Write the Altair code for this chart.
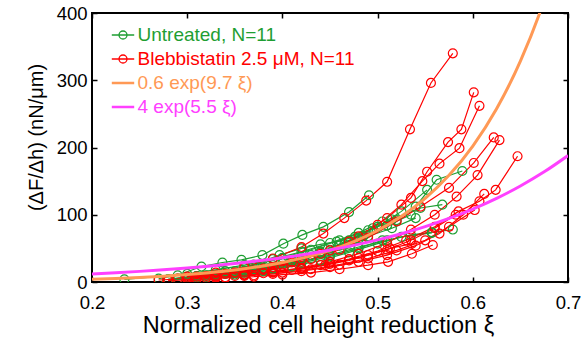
import json
import altair as alt
import pandas as pd

FONT = "Liberation Sans"
SERIES = ["Untreated, N=11", "Blebbistatin 2.5 μM, N=11", "0.6 exp(9.7 ξ)", "4 exp(5.5 ξ)"]
COLORS = ["#1e9e32", "#ff0000", "#ff9955", "#ff40ff"]
X_TICKS = [0.2, 0.3, 0.4, 0.5, 0.6, 0.7]
Y_TICKS = [0, 100, 200, 300, 400]

# Untreated curves (green)
GREEN_X = [
    [0.270, 0.290, 0.315, 0.337, 0.357, 0.379, 0.401, 0.421, 0.443, 0.470, 0.491],
    [0.300, 0.330, 0.360, 0.390, 0.420, 0.450, 0.480, 0.510, 0.540, 0.562, 0.589],
    [0.280, 0.310, 0.340, 0.370, 0.400, 0.430, 0.460, 0.490, 0.515, 0.545, 0.568],
    [0.300, 0.330, 0.360, 0.390, 0.420, 0.450, 0.480, 0.510, 0.535, 0.557, 0.579],
    [0.290, 0.320, 0.350, 0.380, 0.410, 0.440, 0.470, 0.500, 0.525, 0.552],
    [0.280, 0.310, 0.340, 0.370, 0.397, 0.420, 0.440, 0.457, 0.476, 0.495, 0.520],
    [0.234, 0.300, 0.330, 0.360, 0.390, 0.420, 0.450, 0.480, 0.505],
    [0.310, 0.340, 0.370, 0.400, 0.430, 0.460, 0.485, 0.510, 0.535],
    [0.290, 0.320, 0.350, 0.380, 0.410, 0.440, 0.470, 0.500, 0.525, 0.557],
    [0.300, 0.330, 0.360, 0.390, 0.420, 0.450, 0.480, 0.505],
    [0.320, 0.350, 0.380, 0.410, 0.440, 0.465, 0.490, 0.515, 0.540],
]
GREEN_Y = [
    [5, 10, 23, 29, 33, 40, 57, 70, 82, 104, 129],
    [6, 11, 17, 25, 35, 48, 64, 84, 112, 152, 165],
    [4, 9, 16, 25, 36, 48, 62, 77, 93, 110, 115],
    [6, 10, 15, 22, 30, 40, 52, 62, 70, 74, 78],
    [5, 9, 14, 21, 31, 45, 62, 82, 105, 137],
    [4, 9, 16, 26, 40, 50, 56, 60, 67, 80, 92],
    [4, 12, 18, 25, 34, 45, 58, 73, 90],
    [7, 12, 19, 28, 40, 54, 68, 84, 100],
    [4, 7, 11, 16, 23, 32, 44, 57, 67, 73],
    [5, 9, 14, 20, 28, 38, 50, 62],
    [10, 16, 24, 33, 44, 56, 68, 80, 95],
]

# Blebbistatin curves (red)
RED_X = [
    [0.300, 0.330, 0.360, 0.390, 0.420, 0.443, 0.465, 0.488, 0.510, 0.534, 0.556, 0.579],
    [0.300, 0.330, 0.360, 0.390, 0.420, 0.450, 0.480, 0.510, 0.535, 0.552, 0.574, 0.588, 0.601],
    [0.290, 0.320, 0.350, 0.380, 0.410, 0.440, 0.470, 0.500, 0.525, 0.547, 0.565, 0.586, 0.607],
    [0.310, 0.340, 0.370, 0.400, 0.430, 0.460, 0.490, 0.520, 0.545, 0.575, 0.601, 0.622],
    [0.300, 0.330, 0.360, 0.390, 0.420, 0.450, 0.480, 0.510, 0.535, 0.560, 0.583, 0.605, 0.628],
    [0.320, 0.350, 0.380, 0.410, 0.440, 0.470, 0.500, 0.530, 0.560, 0.585, 0.607, 0.624, 0.647],
    [0.300, 0.330, 0.360, 0.390, 0.420, 0.450, 0.480, 0.510, 0.540, 0.565, 0.590, 0.612],
    [0.280, 0.310, 0.340, 0.370, 0.400, 0.430, 0.460, 0.490, 0.520, 0.550, 0.575, 0.602],
    [0.270, 0.300, 0.330, 0.360, 0.390, 0.420, 0.450, 0.480, 0.510, 0.535, 0.560, 0.582],
    [0.280, 0.310, 0.340, 0.370, 0.400, 0.430, 0.460, 0.490, 0.511, 0.536, 0.558],
    [0.300, 0.330, 0.360, 0.390, 0.420, 0.445, 0.470, 0.490, 0.513, 0.536],
]
RED_Y = [
    [8, 14, 22, 35, 52, 72, 95, 121, 149, 227, 296, 340],
    [6, 10, 15, 22, 33, 47, 68, 95, 125, 164, 208, 227, 282],
    [5, 9, 14, 20, 29, 42, 60, 85, 115, 150, 176, 199, 262],
    [8, 12, 17, 24, 34, 48, 66, 90, 112, 140, 177, 215],
    [5, 8, 11, 15, 21, 30, 42, 58, 78, 100, 127, 159, 211],
    [6, 9, 13, 18, 25, 34, 46, 62, 82, 105, 120, 137, 187],
    [4, 6, 9, 12, 16, 22, 30, 40, 54, 72, 100, 131],
    [3, 5, 7, 10, 14, 19, 26, 35, 47, 62, 82, 107],
    [3, 5, 8, 11, 15, 20, 27, 36, 48, 62, 80, 100],
    [2, 4, 6, 8, 11, 14, 19, 25, 30, 42, 55],
    [5, 7, 10, 14, 19, 25, 32, 40, 50, 57],
]

# Fitted curves
FIT_X = [0.200, 0.225, 0.250, 0.275, 0.300, 0.325, 0.350, 0.375, 0.400, 0.425, 0.450,
         0.475, 0.500, 0.525, 0.550, 0.575, 0.600, 0.625, 0.650, 0.675, 0.700]
FIT_ORANGE = [4.2, 5.3, 6.8, 8.6, 11.0, 14.0, 17.9, 22.8, 29.1, 37.0, 47.2,
              60.1, 76.6, 97.7, 124.5, 158.6, 202.2, 257.7, 328.4, 418.5, 533.0]
FIT_MAGENTA = [12.0, 13.8, 15.8, 18.2, 20.8, 23.9, 27.4, 31.5, 36.1, 41.4, 47.5,
               54.5, 62.6, 71.8, 82.4, 94.5, 108.5, 124.4, 142.8, 163.8, 188.0]

MEAS_SYMBOL = "M-1.4,0L1.4,0M0.5,0A0.5,0.5 0 1,1 -0.5,0A0.5,0.5 0 1,1 0.5,0"
FIT_SYMBOL = "M-1.4,-0.08L1.4,-0.08M-1.4,0L1.4,0M-1.4,0.08L1.4,0.08"
SHAPES = [MEAS_SYMBOL, MEAS_SYMBOL, FIT_SYMBOL, FIT_SYMBOL]

rows = []
for label, XS, YS, tag in [(SERIES[0], GREEN_X, GREEN_Y, "g"), (SERIES[1], RED_X, RED_Y, "r")]:
    for i, (xs, ys) in enumerate(zip(XS, YS)):
        for x, y in zip(xs, ys):
            rows.append({"series": label, "curve": f"{tag}{i}", "x": x, "y": y})
meas = pd.DataFrame(rows)

fit_rows = []
for label, vals in [(SERIES[2], FIT_ORANGE), (SERIES[3], FIT_MAGENTA)]:
    for x, y in zip(FIT_X, vals):
        fit_rows.append({"series": label, "curve": label, "x": x, "y": y})
fits = pd.DataFrame(fit_rows)

W, H = 476, 269
xscale = alt.Scale(domain=[0.2, 0.7], nice=False, zero=False)
yscale = alt.Scale(domain=[0, 400], nice=False)

cond = "'#000000'"
for s, c in reversed(list(zip(SERIES, COLORS))):
    cond = f"datum.label == {json.dumps(s)} ? '{c}' : {cond}"

leg = alt.Legend(
    title=None, orient="none", legendX=21.5, legendY=12.5, padding=0,
    labelFont=FONT, labelFontSize=19, labelOffset=5, rowPadding=4,
    symbolSize=256, symbolStrokeWidth=1.3, labelLimit=0,
    labelColor={"expr": cond},
)
color = alt.Color("series:N", scale=alt.Scale(domain=SERIES, range=COLORS), legend=leg)

ax_x_main = alt.Axis(orient="bottom", values=X_TICKS, format=".1f", ticks=False, domain=False,
                     grid=False, labelFontSize=18.5, labelPadding=11, labelFlush=False,
                     title="Normalized cell height reduction ξ", titleFontSize=23.5,
                     titleFontWeight="normal", titlePadding=2, titleX=226)
ax_y_main = alt.Axis(orient="left", values=Y_TICKS, format="d", ticks=False, domain=False,
                     grid=False, labelFontSize=18.5, labelPadding=5,
                     title="(ΔF/Δh) (nN/μm)", titleFontSize=20, titleFontWeight="normal",
                     titlePadding=10, titleY=124)
ax_x_in_bottom = alt.Axis(orient="top", offset=-H, values=X_TICKS, labels=False, domain=False,
                          grid=False, ticks=True, title=None)
ax_y_in_left = alt.Axis(orient="right", offset=-W, values=Y_TICKS, labels=False, domain=False,
                        grid=False, ticks=True, title=None)
ax_x_in_top = alt.Axis(orient="bottom", offset=-H, values=X_TICKS, labels=False, domain=False,
                       grid=False, ticks=True, title=None)
ax_y_in_right = alt.Axis(orient="left", offset=-W, values=Y_TICKS, labels=False, domain=False,
                         grid=False, ticks=True, title=None)

lines = alt.Chart(meas).mark_line(strokeWidth=1.2, clip=True).encode(
    x=alt.X("x:Q", scale=xscale, axis=ax_x_main),
    y=alt.Y("y:Q", scale=yscale, axis=ax_y_main),
    color=color, detail="curve:N",
)
points = alt.Chart(meas).mark_point(shape="circle", filled=False, size=80, strokeWidth=1.2,
                                    opacity=1, clip=True).encode(
    x=alt.X("x:Q", scale=xscale, axis=ax_x_in_bottom),
    y=alt.Y("y:Q", scale=yscale, axis=ax_y_in_left),
    color=color,
)
fit_lines = alt.Chart(fits).mark_line(strokeWidth=3, interpolate="monotone", clip=True).encode(
    x=alt.X("x:Q", scale=xscale, axis=ax_x_in_top),
    y=alt.Y("y:Q", scale=yscale, axis=ax_y_in_right),
    color=color, detail="curve:N",
)
legend_carrier = alt.Chart(meas).transform_filter("false").mark_point(
    filled=False, size=256, strokeWidth=1.3, opacity=1).encode(
    x=alt.X("x:Q", scale=xscale, axis=None),
    y=alt.Y("y:Q", scale=yscale, axis=None),
    color=color,
    shape=alt.Shape("series:N", scale=alt.Scale(domain=SERIES, range=SHAPES), legend=leg),
)

chart = alt.layer(lines, points, fit_lines, legend_carrier).resolve_axis(
    x="independent", y="independent"
).properties(
    width=W, height=H, autosize=alt.AutoSizeParams(type="none"),
    padding={"left": 92, "top": 13, "right": 14, "bottom": 61},
).configure(font=FONT).configure_view(stroke="black", strokeWidth=2).configure_axis(
    tickColor="black", tickWidth=1.5, tickSize=5, labelColor="black", titleColor="black",
    labelFont=FONT, titleFont=FONT,
)

chart.save("out.html", embed_options={"renderer": "svg", "actions": False})
